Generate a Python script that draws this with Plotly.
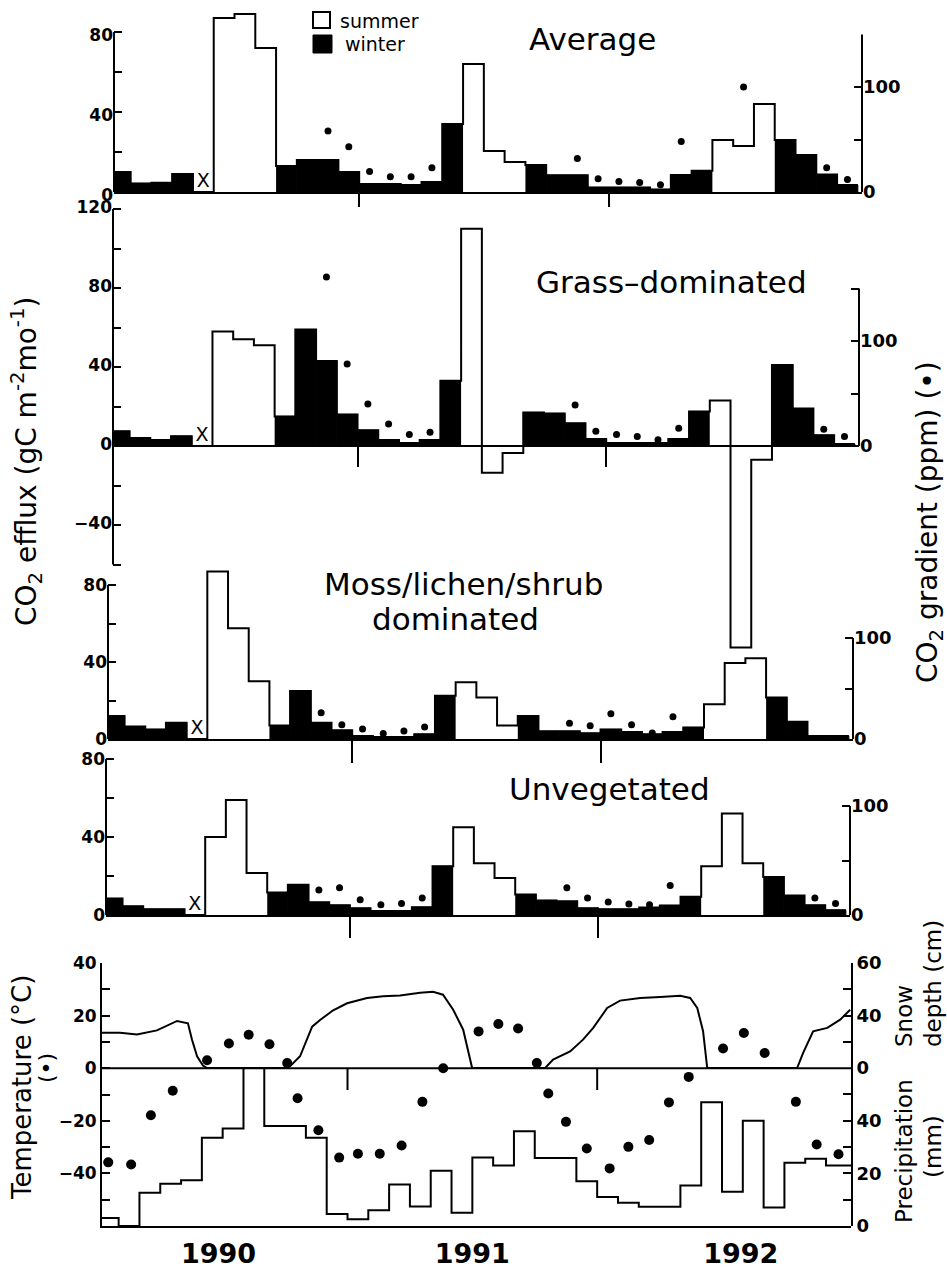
import plotly.graph_objects as go

W, H = 947, 1272
FONT = "DejaVu Sans"

# ------------------------------------------------------------------ data
months = list(range(36))                      # monthly bins, first bin = 0
summer_months = [5, 6, 7, 17, 18, 19, 29, 30, 31]
mid_tick_months = [12, 24]
year_labels = ["1990", "1991", "1992"]
year_tick_pos = [5.8, 18.0, 30.9]

# CO2 efflux (gC m-2 mo-1); None = no data (marked X)
avg_flux = [10, 4.3, 4.6, 9, None, 87, 89, 72, 13, 16, 16, 10, 4, 4, 3.5, 5, 34, 64,
            20.5, 15, 13.5, 8.4, 8.4, 2.3, 2.3, 2.3, 1.3, 8.5, 10.6, 26, 23, 44, 26, 18.5, 8.7, 3.5]
grass_flux = [7.5, 4, 3, 5, None, 58, 54, 51, 15, 59, 43, 16, 8, 3, 1.5, 3, 33, 110,
              -13.5, -3.5, 17, 16.5, 11.5, 3.5, 1.5, 1.5, 1.5, 3.5, 17.5, 23, -102, -7, 41, 19, 5.5, 1]
moss_flux = [12, 6.5, 5, 8.5, None, 87, 57.5, 30, 7, 25, 8.5, 4.5, 1.5, 1, 1, 2.5, 22.5, 29.5,
             21.5, 7, 12, 4, 4, 3, 5, 3.7, 2.5, 3.7, 6, 18, 39.5, 42, 21.5, 9, 1.5, 1.5]
unveg_flux = [8.5, 4.5, 3, 3, None, 40, 59, 21.5, 11.5, 15.5, 6.5, 5, 3.5, 2, 2, 4, 25, 45,
              26.5, 19, 10.5, 7.5, 7, 3.5, 3, 3, 3.8, 4.9, 9.3, 25, 52, 26.5, 19.5, 10, 5, 2.5]

# CO2 gradient (ppm)
avg_grad_months = [10, 11, 12, 13, 14, 15, 22, 23, 24, 25, 26, 27, 30, 34, 35]
avg_grad = [58, 43, 19.5, 14.5, 14.5, 23, 32, 12.5, 10, 9, 7, 48, 100, 23, 12]
grass_grad_months = [10, 11, 12, 13, 14, 15, 22, 23, 24, 25, 26, 27, 34, 35]
grass_grad = [161, 78, 40, 21, 11, 13, 39, 14, 11, 9, 6, 17, 16, 9]
moss_grad_months = [10, 11, 12, 13, 14, 15, 22, 23, 24, 25, 26, 27]
moss_grad = [26, 14, 10, 5.5, 8, 12, 15.5, 13, 25, 14, 6, 22]
unveg_grad_months = [10, 11, 12, 13, 14, 15, 22, 23, 24, 25, 26, 27, 34, 35]
unveg_grad = [23, 25, 14, 9.5, 10.5, 15.5, 25, 15.5, 12, 10, 9.5, 27, 15.5, 10.5]

# climate
precip_mm = [3, 0, 12.6, 16, 17.4, 33.5, 37, 60, 38, 38, 33.5, 4.6, 2.6, 6, 15.8, 7.4, 21, 5,
             26, 23, 36, 25.8, 25.8, 17, 11, 8.8, 7.3, 7.3, 15.4, 47, 13, 40, 7, 24, 25.5, 23]
temp_month = [0.5, 1.6, 2.55, 3.6, 5.25, 6.3, 7.25, 8.25, 9.1, 9.6, 10.6, 11.6, 12.5, 13.55,
              14.6, 15.6, 16.6, 18.3, 19.25, 20.2, 21.1, 21.65, 22.5, 23.5, 24.6, 25.5, 26.5,
              27.45, 28.4, 30.05, 31.05, 32.05, 33.55, 34.55, 35.6]
temp_c = [-35.8, -36.6, -17.9, -8.6, 3.0, 9.4, 12.7, 9.1, 2.0, -11.4, -23.6, -34, -32.5, -32.5,
          -29.4, -12.8, 0, 14, 16.8, 15.1, 2.0, -9.6, -20.4, -30.5, -38.1, -29.9, -27.3,
          -13, -3.3, 7.5, 13.4, 5.8, -12.8, -29, -32.7]
snow_month = [0.2, 1.07, 1.88, 2.84, 3.81, 4.33, 4.53, 4.77, 5.06, 5.25, 9.09, 9.24, 9.72, 10.3,
              10.68, 11.31, 11.98, 12.94, 13.71, 14.53, 15.49, 16.11, 16.59, 17.08, 17.56, 17.8,
              17.99, 21.5, 21.88, 22.7, 23.32, 23.81, 24.48, 25.1, 26.07, 27.03, 27.99, 28.47,
              28.81, 29.09, 29.29, 33.61, 33.9, 34.38, 35.06, 35.68, 36.16]
snow_cm = [20.2, 20.2, 19.2, 21.5, 26.9, 25.5, 16, 6.7, 1.3, 0, 0, 1, 6.7, 23.6, 27.4, 33, 37,
           40, 41, 41.5, 43, 43.6, 41.9, 33.3, 21.9, 8.6, 0, 0, 4.8, 9.5, 16.2, 22.9, 34.3,
           38.5, 40, 40.6, 41.3, 40, 34.3, 21, 0, 0, 8.6, 21, 22.9, 27.6, 33.3]

# ------------------------------------------------------------------ layout helpers
def fx(px):
    return px / W


def fy(py):
    return 1 - py / H


XR = [0.2, 36.2]
TICKFONT = dict(family=FONT, size=17, color="black", weight="bold")
RTICKFONT = dict(family=FONT, size=18, color="black", weight="bold")
TICKSTYLE = dict(ticks="inside", ticklen=8, tickwidth=2, tickcolor="black")


def minor(vals):
    return dict(tickmode="array", tickvals=vals, **TICKSTYLE)


panels = [
    dict(title="Average", flux=avg_flux, gm=avg_grad_months, gv=avg_grad,
         left=114, right=862, top=8, zero=192, bottom=192, ppu=2.0, ppp=1.05,
         laxis=(0, 80), raxis=(0, 150), lt=[0, 40, 80], lmin=[20, 60],
         rt=[0, 100], rmin=[50], xtl=13, lshift=3),
    dict(title="Grass", flux=grass_flux, gm=grass_grad_months, gv=grass_grad,
         left=113, right=859, top=200, zero=446, bottom=652, ppu=1.975, ppp=1.05,
         laxis=(-60, 120), raxis=(0, 150), lt=[-40, 0, 40, 80, 120],
         lmin=[-60, -20, 20, 60, 100], rt=[0, 100], rmin=[50, 150], xtl=20, lshift=-2),
    dict(title="Moss", flux=moss_flux, gm=moss_grad_months, gv=moss_grad,
         left=108, right=853, top=560, zero=739, bottom=739, ppu=1.925, ppp=1.01,
         laxis=(0, 80), raxis=(0, 100), lt=[0, 40, 80], lmin=[20, 60],
         rt=[0, 100], rmin=[50], xtl=22, lshift=0),
    dict(title="Unveg", flux=unveg_flux, gm=unveg_grad_months, gv=unveg_grad,
         left=106, right=850, top=745, zero=915, bottom=915, ppu=1.95, ppp=1.09,
         laxis=(0, 80), raxis=(0, 100), lt=[0, 40, 80], lmin=[20, 60],
         rt=[0, 100], rmin=[50], xtl=21, lshift=0),
]


def lab(v):
    return ("\u2212" + str(-v)) if v < 0 else str(v)


fig = go.Figure()
layout = dict(width=W, height=H, autosize=False,
              margin=dict(l=0, r=0, t=0, b=0, autoexpand=False),
              paper_bgcolor="white", plot_bgcolor="rgba(0,0,0,0)", barmode="overlay",
              showlegend=False, font=dict(family=FONT, color="black"))
shapes = []
annotations = []

for k, p in enumerate(panels, start=1):
    xa = "x" if k == 1 else f"x{k}"
    xkey = "xaxis" if k == 1 else f"xaxis{k}"
    yl, yr = 2 * k - 1, 2 * k
    yl_ref = "y" if yl == 1 else f"y{yl}"
    yr_ref = f"y{yr}"
    yl_key = "yaxis" if yl == 1 else f"yaxis{yl}"
    yr_key = f"yaxis{yr}"
    dom_x = [fx(p["left"]), fx(p["right"])]
    dom_y = [fy(p["bottom"]), fy(p["top"])]
    lrange = [-(p["bottom"] - p["zero"]) / p["ppu"], (p["zero"] - p["top"]) / p["ppu"]]
    rrange = [-(p["bottom"] - p["zero"]) / p["ppp"], (p["zero"] - p["top"]) / p["ppp"]]

    xaxis = dict(domain=dom_x, range=XR, showgrid=False, zeroline=False, showline=True,
                 linecolor="black", linewidth=2, ticks="outside", tickvals=mid_tick_months,
                 ticklen=p["xtl"], tickwidth=2, tickcolor="black", showticklabels=False)
    if p["bottom"] != p["zero"]:
        xaxis.update(anchor="free", position=fy(p["zero"]))
    else:
        xaxis.update(anchor=yl_ref)
    layout[xkey] = xaxis
    layout[yl_key] = dict(domain=dom_y, range=lrange, anchor=xa, side="left", showgrid=False,
                          zeroline=False, showline=False, tickvals=p["lt"],
                          ticktext=[lab(v) for v in p["lt"]], tickfont=TICKFONT,
                          ticklabelshift=p["lshift"], minor=minor(p["lmin"]), **TICKSTYLE)
    layout[yr_key] = dict(overlaying=yl_ref, range=rrange, anchor=xa, side="right", showgrid=False,
                          zeroline=False, showline=False, tickvals=p["rt"],
                          ticktext=[lab(v) for v in p["rt"]], tickfont=RTICKFONT,
                          minor=minor(p["rmin"]), **TICKSTYLE)
    # axis lines only over the labelled extent
    shapes.append(dict(type="line", xref=f"{xa} domain", x0=0, x1=0, yref=yl_ref,
                       y0=p["laxis"][0], y1=p["laxis"][1], line=dict(color="black", width=2)))
    shapes.append(dict(type="line", xref=f"{xa} domain", x0=1, x1=1, yref=yr_ref,
                       y0=p["raxis"][0], y1=p["raxis"][1], line=dict(color="black", width=2)))

    flux = p["flux"]
    win = [m for m in months if m not in summer_months and flux[m] is not None]
    sumr = [m for m in months if m in summer_months and flux[m] is not None]
    miss = [m for m in months if flux[m] is None]
    fig.add_trace(go.Bar(x=[m + 0.5 for m in win], y=[flux[m] for m in win], width=1,
                         marker=dict(color="black", line=dict(color="black", width=1)),
                         xaxis=xa, yaxis=yl_ref, name="winter"))
    fig.add_trace(go.Bar(x=[m + 0.5 for m in sumr], y=[flux[m] for m in sumr], width=1,
                         marker=dict(color="white", line=dict(color="white", width=0)),
                         xaxis=xa, yaxis=yl_ref, name="summer"))
    step_y = [v if v is not None else 0 for v in flux]
    fig.add_trace(go.Scatter(x=months + [len(months)], y=step_y + [step_y[-1]], mode="lines",
                             line=dict(color="black", width=2, shape="hv"),
                             xaxis=xa, yaxis=yl_ref, hoverinfo="skip"))
    fig.add_trace(go.Scatter(x=[m + 0.5 for m in miss], y=[0] * len(miss), mode="text",
                             text=["X"] * len(miss), textposition="top center",
                             textfont=dict(family=FONT, size=19, color="black"),
                             xaxis=xa, yaxis=yl_ref))
    fig.add_trace(go.Scatter(x=[m + 0.5 for m in p["gm"]], y=p["gv"], mode="markers",
                             marker=dict(color="black", size=7), xaxis=xa, yaxis=yr_ref))

# ------------------------------------------------------------------ climate panel
P5L, P5R, P5T, P5Z, P5B = 102, 851, 963, 1068, 1226
layout["xaxis5"] = dict(domain=[fx(P5L), fx(P5R)], range=XR, anchor="y9", showgrid=False,
                        zeroline=False, showline=True, linecolor="black", linewidth=2, ticks="",
                        tickvals=year_tick_pos, ticktext=year_labels,
                        tickfont=dict(family=FONT, size=27, color="black", weight="bold"),
                        ticklabelstandoff=3)
layout["yaxis9"] = dict(domain=[fy(P5B), fy(P5T)], range=[-60, 40], anchor="x5", side="left",
                        showgrid=False, zeroline=False, showline=True, linecolor="black",
                        linewidth=2, tickvals=[-40, -20, 0, 20, 40],
                        ticktext=[lab(v) for v in [-40, -20, 0, 20, 40]], tickfont=TICKFONT,
                        minor=minor([-60, -50, -30, -10, 10, 30]), **TICKSTYLE)
# snow-depth scale: labels as printed in the source figure
layout["yaxis10"] = dict(domain=[fy(P5Z), fy(P5T)], range=[0, 60], anchor="x5", side="right",
                         showgrid=False, zeroline=False, showline=True, linecolor="black",
                         linewidth=2, tickvals=[0, 30, 60], ticktext=["0", "40", "60"],
                         tickfont=RTICKFONT, minor=minor([15, 45]), **TICKSTYLE)
layout["yaxis11"] = dict(domain=[fy(P5B), fy(P5Z)], range=[0, 60], anchor="x5", side="right",
                         showgrid=False, zeroline=False, showline=True, linecolor="black",
                         linewidth=2, tickvals=[0, 20, 40], ticktext=["0", "20", "40"],
                         tickfont=RTICKFONT, minor=minor([10, 30, 50]), **TICKSTYLE)

fig.add_trace(go.Scatter(x=months + [XR[1]], y=precip_mm + [precip_mm[-1]], mode="lines",
                         line=dict(color="black", width=2, shape="hv"), xaxis="x5", yaxis="y11"))
fig.add_trace(go.Scatter(x=snow_month, y=snow_cm, mode="lines",
                         line=dict(color="black", width=2), xaxis="x5", yaxis="y10"))
fig.add_trace(go.Scatter(x=temp_month, y=temp_c, mode="markers",
                         marker=dict(color="black", size=10), xaxis="x5", yaxis="y9"))
# zero line of temperature and its ticks
shapes.append(dict(type="line", xref="x5 domain", x0=0, x1=1, yref="y9", y0=0, y1=0,
                   line=dict(color="black", width=2)))
for m in mid_tick_months:
    shapes.append(dict(type="line", xref="x5", x0=m, x1=m, yref="paper",
                       y0=fy(P5Z), y1=fy(P5Z + 22), line=dict(color="black", width=2)))

# ------------------------------------------------------------------ legend
shapes.append(dict(type="rect", xref="paper", yref="paper", x0=fx(313), x1=fx(330),
                   y0=fy(28), y1=fy(12), fillcolor="white", line=dict(color="black", width=2)))
shapes.append(dict(type="rect", xref="paper", yref="paper", x0=fx(313), x1=fx(332),
                   y0=fy(53), y1=fy(35), fillcolor="black", line=dict(color="black", width=1)))


def ann(text, x, y, size, angle=0, xanchor="center", yanchor="middle", align="center"):
    return dict(text=text, x=fx(x), y=fy(y), xref="paper", yref="paper", showarrow=False,
                font=dict(family=FONT, size=size, color="black"), textangle=angle,
                xanchor=xanchor, yanchor=yanchor, align=align)


annotations += [
    ann("summer", 338, 21, 19, xanchor="left"),
    ann("winter", 343, 44, 19, xanchor="left"),
    ann("Average", 592, 39, 31),
    ann("Grass\u2013dominated", 671, 282, 31),
    ann("Moss/lichen/shrub", 463, 584, 31),
    ann("dominated", 455, 619, 31),
    ann("Unvegetated", 609, 789, 31),
    ann("CO<sub>2</sub> efflux (gC m<sup>-2</sup>mo<sup>-1</sup>)", 27, 462, 28, angle=-90),
    ann("CO<sub>2</sub> gradient (ppm) (\u2022)", 929, 522, 28, angle=-90),
    ann("Snow", 904, 1016, 23, angle=-90),
    ann("depth (cm)", 933, 984, 23, angle=-90),
    ann("Precipitation", 904, 1151, 23, angle=-90),
    ann("(mm)", 933, 1147, 23, angle=-90),
    ann("Temperature (\u00b0C)", 22, 1088, 26, angle=-90),
    ann("(\u2022)", 46, 1068, 22, angle=-90),
]

layout["shapes"] = shapes
layout["annotations"] = annotations
fig.update_layout(**layout)

# place the fixed-size figure at the page origin (no default body margin)
pin = ("document.body.style.margin='0';"
       "var d=document.getElementById('{plot_id}');"
       "d.style.position='absolute';d.style.left='0px';d.style.top='0px';")
fig.write_html("out.html", post_script=pin, config={"displayModeBar": False})
